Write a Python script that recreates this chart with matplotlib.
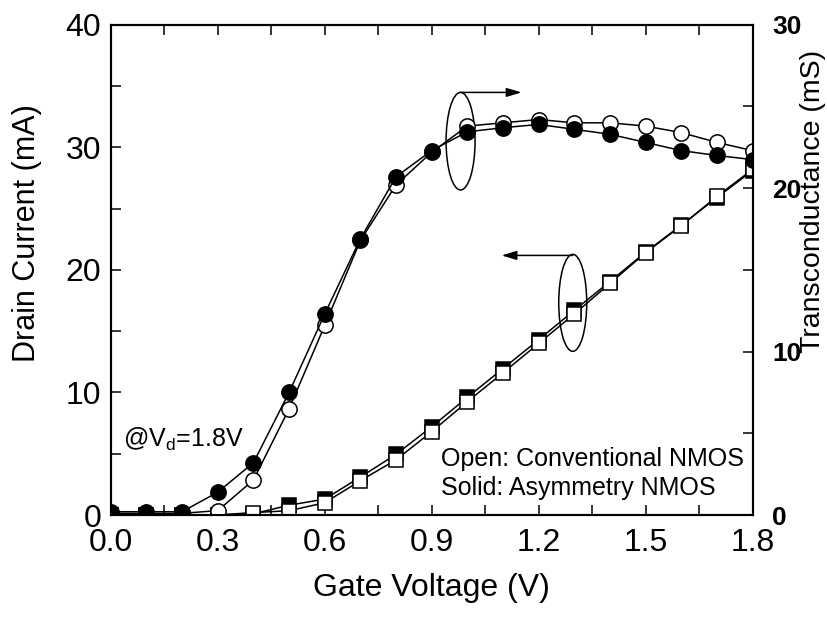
import matplotlib
matplotlib.use('Agg')
import matplotlib.pyplot as plt
from matplotlib.patches import Ellipse
from matplotlib.ticker import MultipleLocator

plt.rcParams['font.family'] = ['Liberation Sans', 'DejaVu Sans']
plt.rcParams['mathtext.default'] = 'regular'

# gate voltage sweep (V)
vg = [0.0, 0.1, 0.2, 0.3, 0.4, 0.5, 0.6, 0.7, 0.8, 0.9,
      1.0, 1.1, 1.2, 1.3, 1.4, 1.5, 1.6, 1.7, 1.8]

# drain current (mA), left axis
id_open = [0, 0, 0, 0, 0.2, 0.35, 1.0, 2.8, 4.5, 6.8,
           9.25, 11.6, 14.0, 16.4, 18.9, 21.4, 23.6, 26.0, 28.2]
id_solid = [0, 0, 0, 0, 0.1, 0.8, 1.3, 3.1, 4.95, 7.2,
            9.6, 11.95, 14.3, 16.7, 19.05, 21.45, 23.65, 25.9, 28.1]

# transconductance (mS), right axis
gm_open = [0.1, 0.1, 0.1, 0.27, 2.14, 6.5, 11.6, 16.8, 20.2, 22.2,
           23.8, 24.0, 24.2, 24.0, 24.0, 23.8, 23.4, 22.8, 22.3]
gm_solid = [0.2, 0.2, 0.2, 1.4, 3.2, 7.5, 12.3, 16.9, 20.7, 22.3,
            23.45, 23.7, 23.9, 23.6, 23.3, 22.8, 22.3, 22.0, 21.75]

fig = plt.figure(figsize=(8.27, 6.19), dpi=100)
ax = fig.add_axes([0.134, 0.168, 0.776, 0.792])
ax2 = ax.twinx()

lw = 1.1
ax.plot(vg, id_solid, 'k-', lw=lw, marker='s', ms=10, mfc='k', mec='k', mew=1.1)
ax.plot(vg, id_open, 'k-', lw=lw, marker='s', ms=10, mfc='white', mec='k', mew=1.1)
ax2.plot(vg, gm_open, 'k-', lw=lw, marker='o', ms=11, mfc='white', mec='k', mew=1.1)
ax2.plot(vg, gm_solid, 'k-', lw=lw, marker='o', ms=11, mfc='k', mec='k', mew=1.1)

ax.set_xlim(0, 1.8)
ax.set_ylim(0, 40)
ax2.set_ylim(0, 30)

ax.xaxis.set_major_locator(MultipleLocator(0.3))
ax.xaxis.set_minor_locator(MultipleLocator(0.15))
ax.yaxis.set_major_locator(MultipleLocator(10))
ax.yaxis.set_minor_locator(MultipleLocator(5))
ax2.yaxis.set_major_locator(MultipleLocator(10))
ax2.yaxis.set_minor_locator(MultipleLocator(5))
ax.set_xticklabels([f'{v:.1f}' for v in ax.get_xticks()])

ax.tick_params(axis='x', which='both', direction='in', top=True, length=7, width=1.1,
               labelsize=23, pad=9)
ax.tick_params(axis='y', which='both', direction='in', right=False, length=7, width=1.1,
               labelsize=23, pad=7)
ax2.tick_params(axis='y', which='both', direction='in', length=7, width=1.1,
                labelsize=19, pad=14)
for lab in ax2.get_yticklabels():
    lab.set_fontweight('bold')

for a in (ax, ax2):
    for s in a.spines.values():
        s.set_linewidth(1.5)

ax.set_xlabel('Gate Voltage (V)', fontsize=23, labelpad=11)
ax.set_ylabel('Drain Current (mA)', fontsize=22)
ax.yaxis.set_label_coords(-0.107, 0.576)
ax2.set_ylabel('Transconductance (mS)', fontsize=20.5)
ax2.yaxis.set_label_coords(1.074, 0.639)

# ellipses and arrows marking which axis each family belongs to
ax.add_patch(Ellipse((0.981, 30.5), 0.0813, 7.96, fill=False, ec='k', lw=1.1))
ax.add_patch(Ellipse((1.2956, 17.31), 0.0785, 7.91, fill=False, ec='k', lw=1.1))
arrow = dict(arrowstyle='-|>,head_length=0.5,head_width=0.15', color='k', lw=1.1,
             mutation_scale=18, shrinkA=0, shrinkB=0)
ax.annotate('', xy=(1.152, 34.48), xytext=(0.981, 34.48), arrowprops=arrow)
ax.annotate('', xy=(1.096, 21.18), xytext=(1.2956, 21.18), arrowprops=arrow)

ax.text(0.034, 5.58, r'@V$_{d}$=1.8V', fontsize=18, va='baseline', ha='left')
ax.text(0.927, 4.03, 'Open: Conventional NMOS', fontsize=18, va='baseline', ha='left')
ax.text(0.927, 1.64, 'Solid: Asymmetry NMOS', fontsize=18, va='baseline', ha='left')

fig.savefig('out.png', dpi=100)
